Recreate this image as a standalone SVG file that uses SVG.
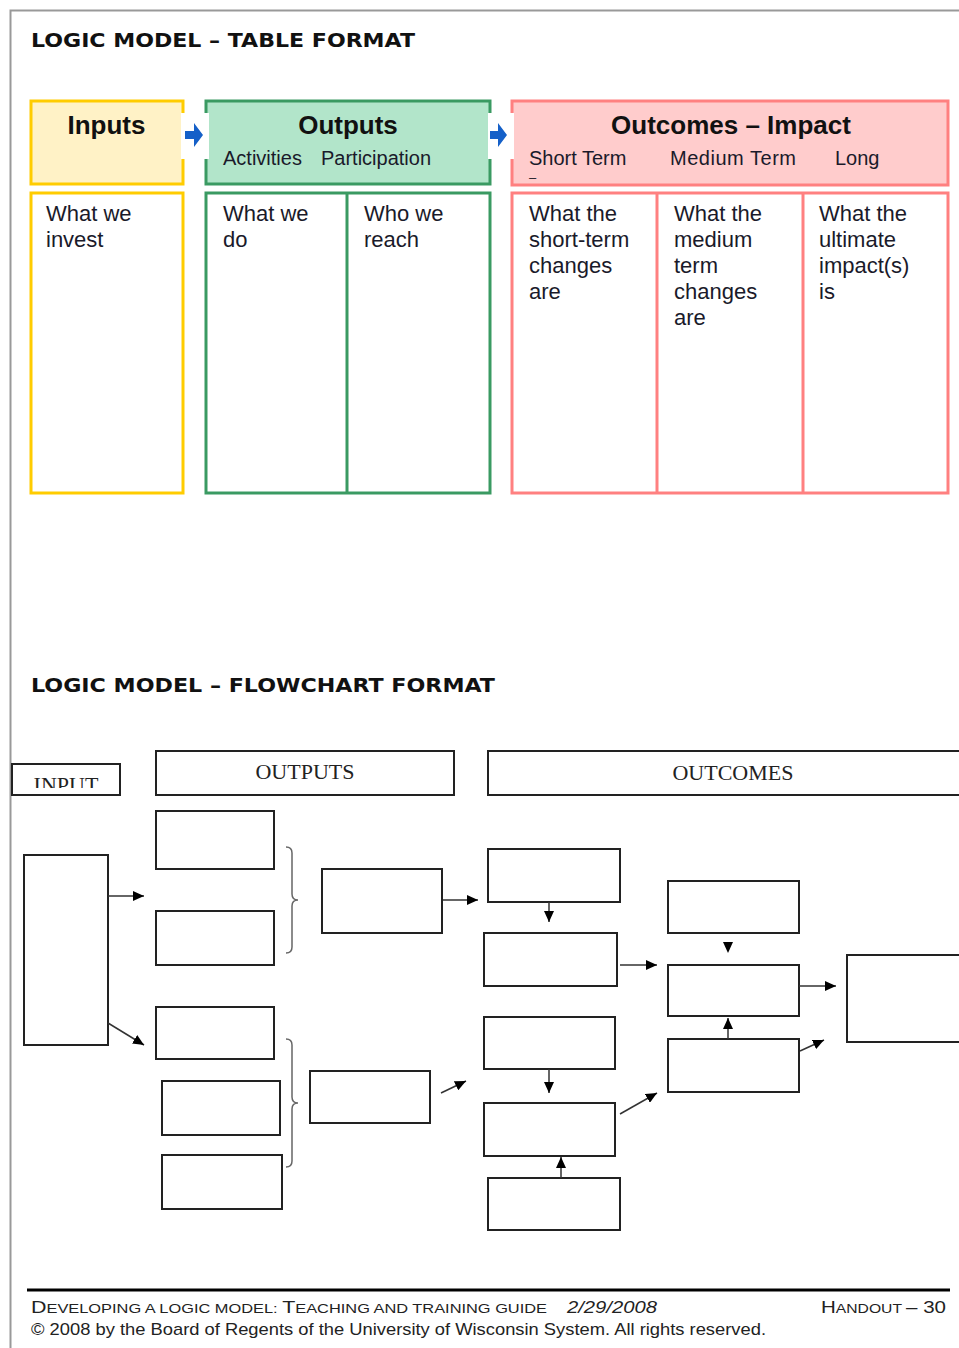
<svg xmlns="http://www.w3.org/2000/svg" width="959" height="1348" viewBox="0 0 959 1348">
<style>
.title{font-family:"DejaVu Sans","Liberation Sans",sans-serif;font-weight:bold;font-size:20px;fill:#111}
.hd{font-family:"Liberation Sans",Arial,sans-serif;font-weight:bold;font-size:26px;fill:#111;text-anchor:middle}
.sub{font-family:"Liberation Sans",Arial,sans-serif;font-size:20px;fill:#1a1a2a}
.body{font-family:"Liberation Sans",Arial,sans-serif;font-size:22px;fill:#1a1a2a}
.fl{font-family:"Liberation Serif","Times New Roman",serif;font-size:22px;fill:#222;text-anchor:middle}
.ft{font-family:"Liberation Sans",Arial,sans-serif;fill:#222}
.yel{fill:#FFF2C6;stroke:#FFCC00;stroke-width:3}
.yelb{fill:#fff;stroke:#FFCC00;stroke-width:3}
.grn{fill:#B2E5CA;stroke:#3A9A62;stroke-width:3}
.grnb{fill:#fff;stroke:#3A9A62;stroke-width:3}
.red{fill:#FFCCCC;stroke:#FF8080;stroke-width:3}
.redb{fill:#fff;stroke:#FF8080;stroke-width:3}
.box{fill:#fff;stroke:#222;stroke-width:2}
.ln{fill:none;stroke:#333;stroke-width:1.5}
.br{fill:none;stroke:#666;stroke-width:1.5}
.blue{fill:#1560C8}
</style>
<defs>
<marker id="ah" markerUnits="userSpaceOnUse" markerWidth="11" markerHeight="10" refX="11" refY="5" orient="auto">
<path d="M0,0 L11,5 L0,10 z" fill="#000"/>
</marker>
<clipPath id="inclip"><rect x="13" y="764" width="106" height="24"/></clipPath>
</defs>
<rect width="959" height="1348" fill="#fff"/>
<path d="M10.5,1348 V10.5 H959" fill="none" stroke="#999" stroke-width="2"/>

<text class="title" x="31" y="47" textLength="384" lengthAdjust="spacingAndGlyphs">LOGIC MODEL – TABLE FORMAT</text>

<g id="inputs-header">
<rect class="yel" x="31" y="101" width="152" height="83"/>
<text class="hd" x="106.5" y="134">Inputs</text>
</g>
<g id="inputs-body">
<rect class="yelb" x="31" y="193" width="152" height="300"/>
<text class="body" x="46" y="221">What we</text>
<text class="body" x="46" y="247">invest</text>
</g>
<g id="outputs-header">
<rect class="grn" x="206" y="101" width="284" height="83"/>
<text class="hd" x="348" y="134">Outputs</text>
<text class="sub" x="223" y="165">Activities</text>
<text class="sub" x="321" y="165">Participation</text>
</g>
<g id="outputs-body">
<rect class="grnb" x="206" y="193" width="284" height="300"/>
<line x1="347" y1="193" x2="347" y2="493" stroke="#3A9A62" stroke-width="3"/>
<text class="body" x="223" y="221">What we</text>
<text class="body" x="223" y="247">do</text>
<text class="body" x="364" y="221">Who we</text>
<text class="body" x="364" y="247">reach</text>
</g>
<g id="outcomes-header">
<rect class="red" x="512" y="101" width="436" height="84"/>
<text class="hd" x="731" y="134">Outcomes – Impact</text>
<text class="sub" x="529" y="165">Short Term<tspan x="529" y="182" font-size="13">–</tspan></text>
<text class="sub" x="670" y="165" textLength="126">Medium Term</text>
<text class="sub" x="835" y="165">Long</text>
</g>
<g id="outcomes-body">
<rect class="redb" x="512" y="193" width="436" height="300"/>
<line x1="657" y1="193" x2="657" y2="493" stroke="#FF8080" stroke-width="3"/>
<line x1="803" y1="193" x2="803" y2="493" stroke="#FF8080" stroke-width="3"/>
<text class="body" x="529" y="221">What the</text>
<text class="body" x="529" y="247">short-term</text>
<text class="body" x="529" y="273">changes</text>
<text class="body" x="529" y="299">are</text>
<text class="body" x="674" y="221">What the</text>
<text class="body" x="674" y="247">medium</text>
<text class="body" x="674" y="273">term</text>
<text class="body" x="674" y="299">changes</text>
<text class="body" x="674" y="325">are</text>
<text class="body" x="819" y="221">What the</text>
<text class="body" x="819" y="247">ultimate</text>
<text class="body" x="819" y="273">impact(s)</text>
<text class="body" x="819" y="299">is</text>
</g>
<g id="table-arrows">
<rect x="181" y="113" width="28" height="46" fill="#fff"/>
<rect x="488" y="113" width="26" height="46" fill="#fff"/>
<polygon class="blue" points="185,131 194,131 194,123 203,135 194,147 194,139 185,139"/>
<polygon class="blue" points="490,131 498,131 498,123 507,135 498,147 498,139 490,139"/>
</g>

<text class="title" x="31" y="692" textLength="464" lengthAdjust="spacingAndGlyphs">LOGIC MODEL – FLOWCHART FORMAT</text>

<g id="input-label">
<rect class="box" x="12" y="764" width="108" height="31"/>
<text class="fl" x="66" y="791.5" clip-path="url(#inclip)">INPUT</text>
</g>
<g id="outputs-label">
<rect class="box" x="156" y="751" width="298" height="44"/>
<text class="fl" x="305" y="779">OUTPUTS</text>
</g>
<g id="outcomes-label">
<rect class="box" x="488" y="751" width="480" height="44"/>
<text class="fl" x="733" y="780">OUTCOMES</text>
</g>

<g id="input-box"><rect class="box" x="24" y="855" width="84" height="190"/></g>
<g id="out-a1"><rect class="box" x="156" y="811" width="118" height="58"/></g>
<g id="out-a2"><rect class="box" x="156" y="911" width="118" height="54"/></g>
<g id="out-b1"><rect class="box" x="322" y="869" width="120" height="64"/></g>
<g id="out-a3"><rect class="box" x="156" y="1007" width="118" height="52"/></g>
<g id="out-a4"><rect class="box" x="162" y="1081" width="118" height="54"/></g>
<g id="out-a5"><rect class="box" x="162" y="1155" width="120" height="54"/></g>
<g id="out-b2"><rect class="box" x="310" y="1071" width="120" height="52"/></g>
<g id="oc-c1"><rect class="box" x="488" y="849" width="132" height="53"/></g>
<g id="oc-c2"><rect class="box" x="484" y="933" width="133" height="53"/></g>
<g id="oc-c3"><rect class="box" x="484" y="1017" width="131" height="52"/></g>
<g id="oc-c4"><rect class="box" x="484" y="1103" width="131" height="53"/></g>
<g id="oc-c5"><rect class="box" x="488" y="1178" width="132" height="52"/></g>
<g id="oc-d1"><rect class="box" x="668" y="881" width="131" height="52"/></g>
<g id="oc-d2"><rect class="box" x="668" y="965" width="131" height="51"/></g>
<g id="oc-d3"><rect class="box" x="668" y="1039" width="131" height="53"/></g>
<g id="oc-e1"><rect class="box" x="847" y="955" width="130" height="87"/></g>

<g id="connectors">
<line class="ln" x1="108" y1="896" x2="144" y2="896" marker-end="url(#ah)"/>
<line class="ln" x1="108" y1="1023" x2="144" y2="1045" marker-end="url(#ah)"/>
<path class="br" d="M286,847 q6,0 6,6 L292,894 q0,6 6,6 q-6,0 -6,6 L292,947 q0,6 -6,6"/>
<path class="br" d="M286,1039 q6,0 6,6 L292,1097 q0,6 6,6 q-6,0 -6,6 L292,1161 q0,6 -6,6"/>
<line class="ln" x1="443" y1="900" x2="478" y2="900" marker-end="url(#ah)"/>
<line class="ln" x1="441" y1="1093" x2="466" y2="1081" marker-end="url(#ah)"/>
<line class="ln" x1="549" y1="902" x2="549" y2="922" marker-end="url(#ah)"/>
<line class="ln" x1="620" y1="965" x2="657" y2="965" marker-end="url(#ah)"/>
<line class="ln" x1="549" y1="1069" x2="549" y2="1093" marker-end="url(#ah)"/>
<line class="ln" x1="620" y1="1114" x2="657" y2="1093" marker-end="url(#ah)"/>
<line class="ln" x1="561" y1="1178" x2="561" y2="1157" marker-end="url(#ah)"/>
<polygon points="723,942 733,942 728,953" fill="#000"/>
<line class="ln" x1="799" y1="986" x2="836" y2="986" marker-end="url(#ah)"/>
<line class="ln" x1="728" y1="1039" x2="728" y2="1018" marker-end="url(#ah)"/>
<line class="ln" x1="800" y1="1051" x2="824" y2="1040" marker-end="url(#ah)"/>
</g>

<g id="footer">
<line x1="27" y1="1290" x2="950" y2="1290" stroke="#000" stroke-width="3"/>
<text class="ft" x="31" y="1313" textLength="516" lengthAdjust="spacingAndGlyphs"><tspan font-size="17">D</tspan><tspan font-size="13">EVELOPING A LOGIC MODEL: </tspan><tspan font-size="17">T</tspan><tspan font-size="13">EACHING AND TRAINING GUIDE</tspan></text>
<text class="ft" x="567" y="1313" font-size="17" font-style="italic" textLength="90" lengthAdjust="spacingAndGlyphs">2/29/2008</text>
<text class="ft" x="821" y="1313" textLength="125" lengthAdjust="spacingAndGlyphs"><tspan font-size="17">H</tspan><tspan font-size="13">ANDOUT </tspan><tspan font-size="17">– 30</tspan></text>
<text class="ft" x="31" y="1335" font-size="17" textLength="735" lengthAdjust="spacingAndGlyphs">© 2008 by the Board of Regents of the University of Wisconsin System. All rights reserved.</text>
</g>
</svg>
